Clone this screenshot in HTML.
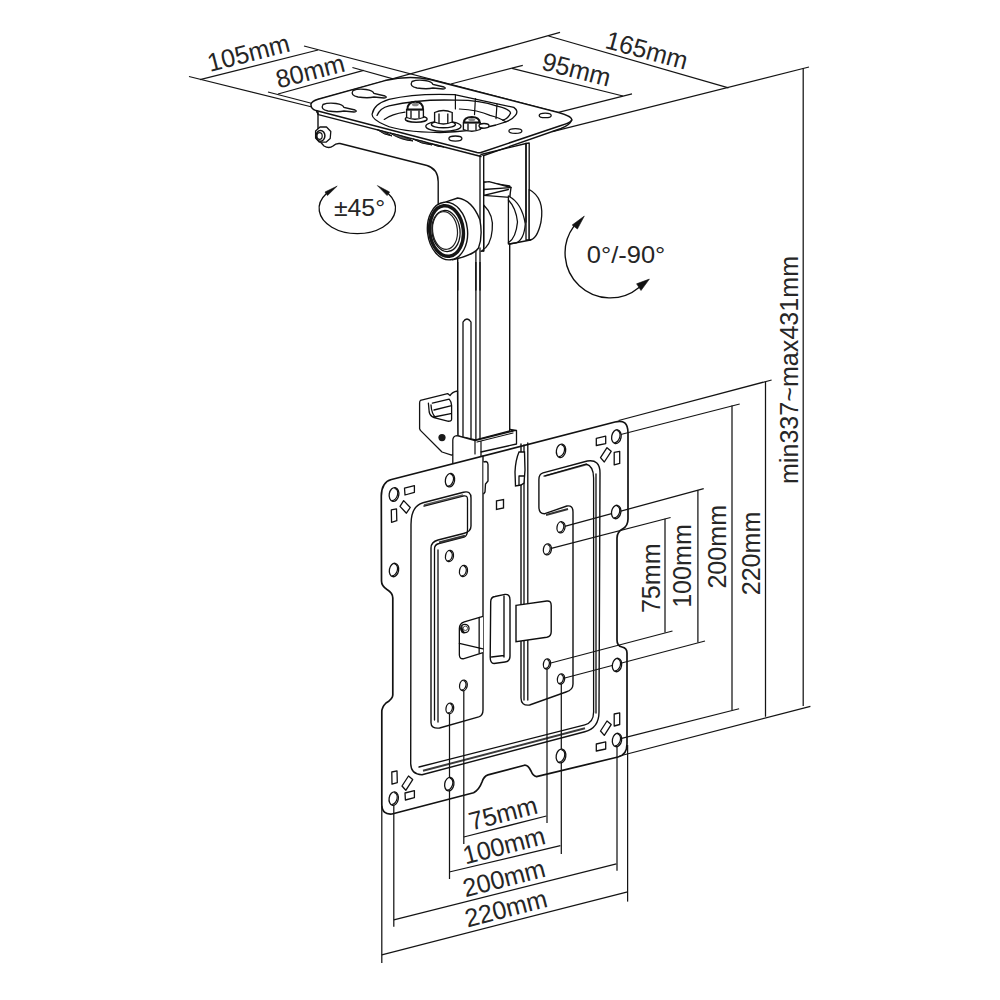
<!DOCTYPE html>
<html><head><meta charset="utf-8">
<style>
html,body{margin:0;padding:0;background:#fff;overflow:hidden;}
svg{display:block;}
text{font-family:"Liberation Sans",sans-serif;fill:#262626;}
.d{stroke:#141414;stroke-width:1.25;fill:none;}
.o{stroke:#121212;stroke-width:1.5;fill:#fff;stroke-linejoin:round;}
.on{stroke:#121212;stroke-width:1.5;fill:none;stroke-linejoin:round;stroke-linecap:round;}
.t{stroke:#0e0e0e;stroke-width:1.3;fill:none;stroke-linecap:round;stroke-linejoin:round;}
.h{stroke:#0e0e0e;stroke-width:1.35;fill:#fff;}
</style></head><body>
<svg width="1000" height="1000" viewBox="0 0 1000 1000">
<rect width="1000" height="1000" fill="#fff"/>
<!-- ===== top dimension lines ===== -->
<g class="d" id="topdims">
  <line x1="189" y1="76.5" x2="312" y2="107"/>
  <line x1="200" y1="79.6" x2="318" y2="50"/>
  <line x1="304" y1="46" x2="560" y2="113"/>
  <line x1="268" y1="92" x2="322" y2="106"/>
  <line x1="278" y1="94" x2="363.6" y2="70.3"/>
  <line x1="352.4" y1="67.5" x2="410" y2="83.6"/>
  <line x1="316" y1="100" x2="560" y2="32.4"/>
  <line x1="548.5" y1="36" x2="728.5" y2="87.8"/>
  <line x1="512" y1="68.4" x2="623" y2="96"/>
  <line x1="450.8" y1="84" x2="522.8" y2="65.4"/>
  <line x1="558.4" y1="112.4" x2="632" y2="93.8"/>
  <line x1="552.4" y1="131.6" x2="809" y2="67"/>
  <line x1="803.2" y1="68" x2="803.2" y2="706"/>
</g>

<!-- ===== ceiling plate ===== -->
<g id="plate">
  <path class="o" d="M311,104 Q312,101 318,99.2 L385,80.6 Q409,74.8 430,79.6 L558.5,112.4 Q572,116 571.8,120 Q570.5,123 561,125.5 L481,152.5 Q479.5,153 477,152.5 L316,110.6 Q310.5,109 311,104 Z"/>
  <path class="on" d="M316.8,111.4 L318.4,114.6 L481,156.5 L561,128.5 Q570,125 571.8,120" style="stroke-width:1.35"/>
  <!-- keyhole slots -->
  <g fill="#fff" stroke="#151515" stroke-width="1.35">
    <path d="M323,104.5 Q328,102.5 336,103.5 Q343,104.5 344,107.5 L355,110 Q358,111.5 354,112 L344,111 Q338,112.5 328,111 Q320,109.5 323,104.5 Z"/>
    <path d="M353,90.5 Q358,88.5 366,89.5 Q373,90.5 374,93.5 L385,96 Q388,97.5 384,98 L374,97 Q368,98.5 358,97 Q350,95.5 353,90.5 Z"/>
    <path d="M412,81.5 Q417,79.5 425,80.5 Q432,81.5 433,84.5 L444,87 Q447,88.5 443,89 L433,88 Q427,89.5 417,88 Q409,86.5 412,81.5 Z"/>
  </g>
  <!-- recess -->
  <path class="h" d="M372.2,113.8 Q374,104 389,99.4 Q415,93 454.6,94.6 L513.8,107.4 Q519,111 515.4,115.4 Q512,120 505.8,121.8 L496,125 Q470,132 440,132.5 Q400,132 385,125 Q371,119 372.2,113.8 Z" style="stroke-width:1.3"/>
  <path class="t" d="M377,115.4 Q380,108 389,105.8 Q420,99 454.6,100.2 Q480,100 496.2,105.8 Q510,109 510.6,113 Q508,119 502.6,120.2" style="stroke-width:1.3"/>
  <path class="t" d="M384.2,119.4 Q392,114 405,112.2 M459.4,109 Q478,110 490,115.4 Q500,118 505.8,121.8" style="stroke-width:1.2"/>
  <path class="t" d="M455.4,94.6 L455.4,109 M475.4,98.6 L474.5,114.6 M497,104.2 L496,118.6" style="stroke-width:1.2"/>
  <!-- nuts -->
  <g fill="#fff" stroke="#111" stroke-width="1.35">
    <ellipse cx="416.2" cy="119" rx="11" ry="3.2"/>
    <path d="M406.6,109.5 L406.6,117.5 Q415,121 423.4,117.5 L423.4,109.5 Z"/>
    <path d="M407.5,109.5 Q407.5,101.8 415.3,101.8 Q423,101.8 423,109.5 Z" stroke-width="2.0"/><ellipse cx="415.3" cy="104.5" rx="3.5" ry="1.8" fill="#888" stroke="none"/>
    <line x1="411" y1="110.5" x2="411" y2="118"/><line x1="419" y1="110.5" x2="419" y2="118"/>
    <ellipse cx="443.4" cy="126.2" rx="17.6" ry="5.2"/>
    <ellipse cx="443.4" cy="124.5" rx="12" ry="3.3"/>
    <path d="M434.6,112.5 L434.6,122 Q443.4,126 452.2,122 L452.2,112.5 Q443.4,108.5 434.6,112.5 Z"/>
    <line x1="439" y1="113.5" x2="439" y2="123"/><line x1="447.8" y1="113.5" x2="447.8" y2="123"/>
    <path d="M463.4,122.5 L463.4,129.5 Q471.8,133 480.2,129.5 L480.2,122.5 Z"/>
    <path d="M464,122.5 Q464,117 471.8,117 Q479.5,117 479.5,122.5 Z" stroke-width="2.0"/><ellipse cx="471.8" cy="119.5" rx="3.5" ry="1.6" fill="#888" stroke="none"/>
    <line x1="468" y1="123.5" x2="468" y2="130.5"/><line x1="476" y1="123.5" x2="476" y2="130.5"/>
    <ellipse cx="484" cy="125.8" rx="5" ry="2.3"/>
  </g>
  <!-- small holes -->
  <g fill="#fff" stroke="#111" stroke-width="1.3">
    <ellipse cx="455.4" cy="138.6" rx="6.5" ry="2.6"/>
    <ellipse cx="515.4" cy="131" rx="6.5" ry="2.4"/>
    <ellipse cx="545.2" cy="115.4" rx="6" ry="2.3"/>
  </g>
</g>

<!-- ===== bracket + knob + pole ===== -->
<g id="bracket">
  <!-- pole -->
  <path class="o" d="M457.7,250 L457.7,436 L475.6,440 L509.7,431 L509.7,186 L484,182 L457.7,186 Z" style="stroke-width:1.4"/>
  <line class="t" x1="475.9" y1="190" x2="475.9" y2="440" style="stroke-width:1.3"/>
  <line class="t" x1="480" y1="190" x2="480" y2="439" style="stroke-width:1.3"/>
  <path class="t" d="M463,436 L463,322 Q467,316 471,322 L471,438" style="stroke-width:1.3"/>
  <!-- bracket right plate edge -->
  <path class="o" d="M526,143.5 L529.2,143 L529.2,240 L526,240 Z" style="stroke-width:1.35"/>
  <!-- top block -->
  <path class="o" style="stroke-width:1.35" d="M483.7,182.4 L489,181.7 L511,187.5 L509.7,197.3 L483.7,195.4 Z"/>
  <path class="t" d="M483.7,189.5 L511,187.5 M483.7,195.4 L508.4,189.5"/>
  <!-- disc right of right plate -->
  <path class="o" d="M529.2,189.5 Q545,198 541,222 Q537,240 529.2,240 Z" style="stroke-width:1.3"/>
  <!-- disc between plates -->
  <path class="o" d="M508.4,196 Q522,203 525.3,224 Q524,240 516.2,242.8 L508.4,244 Z" style="stroke-width:1.3"/>
  <path class="t" d="M508.4,200 Q516,208 517.5,222 Q516,238 508.4,242.8" style="stroke-width:1.3"/>
  <line class="t" x1="526" y1="143.5" x2="526" y2="222" style="stroke-width:1.35"/>
  <path class="t" d="M509.7,244 L530.5,240" style="stroke-width:1.3"/>
  <!-- left side face -->
  <path d="M318,112.5 L318,128 Q317,140 324,146 Q329,149 333,146 Q336,143 340,143.5 L427,165.5 Q438.2,169 438.2,181.7 L438.2,262 L483.7,262 L483.7,156 L481,155.5 Z" fill="#fff"/>
  <path class="on" d="M318,112.5 L318,128 Q317,140 324,146 Q329,149 333,146 Q336,143 340,143.5 L427,165.5 Q438.2,169 438.2,181.7 L438.2,215" style="stroke-width:1.4"/>
  <path class="on" d="M316.8,111.4 L318.4,114.6 L481,156.5" style="stroke-width:1.35"/>
  <!-- underside features -->
  <g fill="#555" stroke="#111" stroke-width="1.0">
    <path d="M377,129.5 Q385,131 392,136 Q384,135 377,129.5 Z"/>
    <path d="M390,133 Q405,136 413,141 Q400,140 390,133 Z"/>
    <path d="M413,139 Q425,141 432,145 Q421,144 413,139 Z"/>
    <path d="M432,144 Q438,145 444,147 Q437,147 432,144 Z"/>
  </g>
  <line class="t" x1="480" y1="155.5" x2="480" y2="233" style="stroke-width:1.3"/>
  <line class="t" x1="481" y1="154.5" x2="526" y2="143.5" style="stroke-width:1.3"/>
  <!-- disc right of front plate -->
  <path class="o" d="M483.7,205 Q494,215 492.2,230 Q491,246 481,251.3 L483.7,251 Z" style="stroke-width:1.3"/>
  <!-- cover pole top lines hidden under face -->
    <line class="t" x1="457.7" y1="250" x2="457.7" y2="290" style="stroke-width:1.4"/>
  <line class="t" x1="475.9" y1="250" x2="475.9" y2="290" style="stroke-width:1.3"/>
  <line class="t" x1="480" y1="248" x2="480" y2="290" style="stroke-width:1.3"/>
  <line class="t" x1="483.7" y1="156" x2="483.7" y2="251" style="stroke-width:1.35"/>
  <!-- front knob body -->
  <path class="o" d="M446,201.9 L457.7,198 Q472,200 479.8,219.4 Q483,236 478.5,248 Q474,255 452.5,259.7 Z" style="stroke-width:1.4"/>
  <ellipse cx="447.5" cy="231" rx="20" ry="29" transform="rotate(-6.5 447.5 231)" fill="#fff" stroke="#111" stroke-width="1.4"/>
  <ellipse cx="446.5" cy="231" rx="16.8" ry="25.4" transform="rotate(-6.5 446.5 231)" fill="none" stroke="#151515" stroke-width="3.4"/>
  <ellipse cx="446" cy="231" rx="14" ry="20.6" transform="rotate(-6.5 446 231)" fill="#fff" stroke="#111" stroke-width="1.3"/>
  <ellipse cx="445" cy="230.5" rx="12.4" ry="18.9" transform="rotate(-6.5 445 230.5)" fill="none" stroke="#222" stroke-width="1.2"/>
  <!-- nut -->
  <path class="o" d="M315.6,131 L320,127 L326.5,127 L330.8,131.5 L330.2,138.5 L326,142.2 L319.5,142.2 L315.6,138 Z" style="stroke-width:1.3"/>
  <ellipse cx="320.5" cy="135.8" rx="4.4" ry="5.4" fill="#fff" stroke="#111" stroke-width="1.5"/>
  <ellipse cx="319.6" cy="136" rx="2.6" ry="3.4" fill="#fff" stroke="#111" stroke-width="1.2"/>
</g>

<!-- ===== pole collar & clip ===== -->
<g id="collar">
  <path class="o" d="M420.4,400.4 L447.6,393.6 L450,395.6 Q452,392 457.5,391 L458,452 L451.6,455.2 L442,452 L420.4,430.4 L419.6,428.8 L419.6,403 Q419.6,401 420.4,400.4 Z" style="stroke-width:1.3"/>
  <path class="t" d="M428.4,403.2 L429.2,412 Q430,416 434,417.6 L447.6,421.2 Q451.6,421.5 451.6,419.2 L451.6,405.6 Q451.6,402 449.2,399.2 M432.4,403.2 L449.2,399.2 M434,410 L451.6,405.6 M434,417 L450.8,413.6 M431,405 Q431.5,414 436,418" style="stroke-width:1.3"/>
  <circle cx="442" cy="437.6" r="3.6" fill="#1a1a1a"/>
  <path class="o" d="M452.8,470 L452.8,440 Q453,436 457,435.6 L475,440.5 L513,431 L510,429.5 L516.5,430.5 L516.5,444 L481,452 L481,470 Z" style="stroke-width:1.3"/>
  <path class="t" d="M475,440.5 L475,454 M481,441 L481,452 M513,431 L516.5,430.5 M477,442 L513,433" style="stroke-width:1.2"/>
</g>

<!-- ===== VESA plate ===== -->
<g id="vesa">
  <path class="o" d="M391.5,479.5 L615,422 Q628,418.4 628,433 L628,519 Q628,526 622.5,529 Q617,532 617,538 L617,640 Q617,646 622,647 Q627,648 627,653 L627,744 Q627,755 618,757 L536.5,776.6 Q533,776 531,771 Q528,765 524.6,765.2 L488,774.9 Q484,776 482,782 Q479,790 473.6,792.7 L392,814 Q382,815 381.8,804.6 L381.8,712 Q381.8,707 386,703 Q392.8,699 392.8,695 L392.8,598 Q392.8,593 387,589.5 Q381.5,586 381.5,581 L381.3,496 Q381.5,482 391.5,479.5 Z" style="stroke-width:1.7"/>
  <!-- raised frame outline -->
  <path class="on" d="M483,456 L483,710 Q483,715.5 478.7,716.9 L439.6,728 Q431,729 431,722.8 L431,548 Q431,542 438,540 L463.5,533.5 Q471,532 471,526 L471,498 Q471,490.5 463.5,492.25 L423,502.75 Q411,506 411,524.5 L410.7,763.8 Q411,774.7 422,774.7 L584.8,731.8 Q599,728 599,712 L600,472.9 Q600,459 587.3,461 L543,472.9 Q538.9,474 538.9,479.7 L538.9,507 Q539,514 544.8,513.7 L566.9,506 Q573,505 573,512 L573,684 Q573,690 566,692 L529.6,705 Q521,706 521,698 L521,444" style="stroke-width:1.4"/>
  <!-- emboss inner lines -->
  <path class="t" d="M434.5,720 L434.5,549 Q434.5,544.5 439,543.5 L464,537 Q467.5,536 467.5,530 L467.5,499 Q467.5,495 463,496 L424,506"/>
  <path class="t" d="M438,722 L438,550"/>
  <path d="M423,770.8 L585,728.2" stroke="#3a3a3a" stroke-width="2.0" fill="none"/>
  <path class="t" d="M419,767 L584.8,724.8 Q593.6,722.5 593.6,712"/>
  <path d="M546,515 L568,509" stroke="#333" stroke-width="2" fill="none"/>
  <path d="M439,542.5 L465,535.8" stroke="#333" stroke-width="2" fill="none"/>
  <path d="M424,505 L463,495" stroke="#555" stroke-width="1.6" fill="none"/>
  <path d="M545,476 L587,464.5" stroke="#555" stroke-width="1.6" fill="none"/>
  <path class="t" d="M596,713 L596,474 M593.6,712 L593.6,478 Q593.6,466 586,464 L544,476"/>
  <path class="t" d="M524,700 L524,445 M527.8,700 L527.8,443"/>
</g>

<!-- ===== right vertical dims ===== -->
<g class="d" id="rdims">
  <line x1="618.6" y1="420.5" x2="771.6" y2="380"/>
  <line x1="765.5" y1="381.5" x2="765.5" y2="716.8"/>
  <line x1="620.8" y1="434.5" x2="739.7" y2="404"/>
  <line x1="732" y1="405.5" x2="732" y2="710"/>
  <line x1="561" y1="527.3" x2="703.7" y2="488.7"/>
  <line x1="697.9" y1="490.3" x2="697.9" y2="642.5"/>
  <line x1="561" y1="679" x2="705" y2="641"/>
  <line x1="547.4" y1="549.4" x2="670.6" y2="517.5"/>
  <line x1="665" y1="518.7" x2="665" y2="632.5"/>
  <line x1="547" y1="664" x2="672.5" y2="631"/>
  <line x1="620.7" y1="738.6" x2="739.1" y2="708.75"/>
  <line x1="619.5" y1="756" x2="810.4" y2="706.4"/>
</g>

<!-- ===== bottom dims ===== -->
<g class="d" id="bdims">
  <line x1="381.8" y1="806" x2="381.8" y2="963"/>
  <line x1="381.8" y1="954.8" x2="627.6" y2="891.8"/>
  <line x1="627.6" y1="745" x2="627.6" y2="901.6"/>
  <line x1="393.8" y1="798" x2="393.8" y2="926.8"/>
  <line x1="393.8" y1="919.8" x2="616.4" y2="863.8"/>
  <line x1="617" y1="740" x2="617" y2="870.8"/>
  <line x1="449.5" y1="714" x2="449.5" y2="879"/>
  <line x1="449.2" y1="872" x2="560.4" y2="845.6"/>
  <line x1="561.3" y1="680" x2="561.3" y2="854"/>
  <line x1="463.8" y1="690" x2="463.8" y2="844"/>
  <line x1="463.8" y1="837" x2="546.4" y2="816"/>
  <line x1="547" y1="665" x2="547" y2="823"/>
</g>

<!-- ===== rotation symbols ===== -->
<g id="rot45">
  <path class="t" d="M326.2,193.8 A38.2,25.2 0 1 0 388.4,193.8" style="stroke-width:1.35"/>
  <path d="M337.2,186.1 L325,192 L327.5,195.6 Z" fill="#111" stroke="#111" stroke-width="0.6"/>
  <path d="M377.4,185.6 L389.6,192 L387.1,195.6 Z" fill="#111" stroke="#111" stroke-width="0.6"/>
</g>
<g id="rot90">
  <path class="t" d="M573.8,226.3 A45,45 0 0 0 639,287.4" style="stroke-width:1.35"/>
  <path d="M584.3,216.1 L572.2,225 L577.4,229 Z" fill="#111" stroke="#111" stroke-width="0.6"/>
  <path d="M649.4,279.1 L636.6,283.8 L641,290.5 Z" fill="#111" stroke="#111" stroke-width="0.6"/>
</g>

<!-- ===== VESA details ===== -->
<g id="vdetail">
  <!-- holes -->
  <g fill="#fff" stroke="#111" stroke-width="1.3">
    <ellipse cx="394.0" cy="494.5" rx="4.8" ry="7.0" transform="rotate(10 394.0 494.5)"/>
    <path d="M394.3,488.3 A4.2,6.1 10 0 1 393.7,500.9" transform="rotate(10 394.0 494.5) translate(-0.9,0)" fill="none" stroke-width="1.2"/>
    <ellipse cx="450.0" cy="480.2" rx="4.6" ry="6.8" transform="rotate(10 450.0 480.2)"/>
    <path d="M450.3,474.2 A4.0,5.9 10 0 1 449.7,486.4" transform="rotate(10 450.0 480.2) translate(-0.9,0)" fill="none" stroke-width="1.2"/>
    <ellipse cx="394.0" cy="570.0" rx="4.6" ry="6.8" transform="rotate(10 394.0 570.0)"/>
    <path d="M394.3,564.0 A4.0,5.9 10 0 1 393.7,576.2" transform="rotate(10 394.0 570.0) translate(-0.9,0)" fill="none" stroke-width="1.2"/>
    <ellipse cx="449.5" cy="556.0" rx="4.0" ry="5.6" transform="rotate(10 449.5 556.0)"/>
    <path d="M449.8,551.2 A3.4,4.7 10 0 1 449.2,561.0" transform="rotate(10 449.5 556.0) translate(-0.9,0)" fill="none" stroke-width="1.2"/>
    <ellipse cx="463.5" cy="571.0" rx="4.0" ry="5.6" transform="rotate(10 463.5 571.0)"/>
    <path d="M463.8,566.2 A3.4,4.7 10 0 1 463.2,576.0" transform="rotate(10 463.5 571.0) translate(-0.9,0)" fill="none" stroke-width="1.2"/>
    <ellipse cx="463.4" cy="685.4" rx="3.8" ry="5.4" transform="rotate(10 463.4 685.4)"/>
    <path d="M463.7,680.8 A3.2,4.5 10 0 1 463.1,690.2" transform="rotate(10 463.4 685.4) translate(-0.9,0)" fill="none" stroke-width="1.2"/>
    <ellipse cx="449.8" cy="708.4" rx="3.8" ry="5.4" transform="rotate(10 449.8 708.4)"/>
    <path d="M450.1,703.8 A3.2,4.5 10 0 1 449.5,713.2" transform="rotate(10 449.8 708.4) translate(-0.9,0)" fill="none" stroke-width="1.2"/>
    <ellipse cx="393.7" cy="798.6" rx="4.6" ry="6.8" transform="rotate(10 393.7 798.6)"/>
    <path d="M394.0,792.6 A4.0,5.9 10 0 1 393.4,804.8" transform="rotate(10 393.7 798.6) translate(-0.9,0)" fill="none" stroke-width="1.2"/>
    <ellipse cx="449.3" cy="784.2" rx="4.6" ry="6.8" transform="rotate(10 449.3 784.2)"/>
    <path d="M449.6,778.2 A4.0,5.9 10 0 1 449.0,790.4" transform="rotate(10 449.3 784.2) translate(-0.9,0)" fill="none" stroke-width="1.2"/>
    <ellipse cx="616.4" cy="436.7" rx="4.7" ry="7.0" transform="rotate(10 616.4 436.7)"/>
    <path d="M616.7,430.5 A4.1,6.1 10 0 1 616.1,443.1" transform="rotate(10 616.4 436.7) translate(-0.9,0)" fill="none" stroke-width="1.2"/>
    <ellipse cx="561.0" cy="450.8" rx="4.6" ry="6.8" transform="rotate(10 561.0 450.8)"/>
    <path d="M561.3,444.8 A4.0,5.9 10 0 1 560.7,457.0" transform="rotate(10 561.0 450.8) translate(-0.9,0)" fill="none" stroke-width="1.2"/>
    <ellipse cx="616.2" cy="512.0" rx="4.6" ry="6.8" transform="rotate(10 616.2 512.0)"/>
    <path d="M616.5,506.0 A4.0,5.9 10 0 1 615.9,518.2" transform="rotate(10 616.2 512.0) translate(-0.9,0)" fill="none" stroke-width="1.2"/>
    <ellipse cx="561.0" cy="527.3" rx="4.0" ry="5.6" transform="rotate(10 561.0 527.3)"/>
    <path d="M561.3,522.5 A3.4,4.7 10 0 1 560.7,532.3" transform="rotate(10 561.0 527.3) translate(-0.9,0)" fill="none" stroke-width="1.2"/>
    <ellipse cx="547.4" cy="549.4" rx="4.0" ry="5.6" transform="rotate(10 547.4 549.4)"/>
    <path d="M547.7,544.6 A3.4,4.7 10 0 1 547.1,554.4" transform="rotate(10 547.4 549.4) translate(-0.9,0)" fill="none" stroke-width="1.2"/>
    <ellipse cx="547.0" cy="664.0" rx="3.6" ry="5.2" transform="rotate(10 547.0 664.0)"/>
    <path d="M547.3,659.6 A3.0,4.3 10 0 1 546.7,668.6" transform="rotate(10 547.0 664.0) translate(-0.9,0)" fill="none" stroke-width="1.2"/>
    <ellipse cx="561.0" cy="679.0" rx="3.6" ry="5.2" transform="rotate(10 561.0 679.0)"/>
    <path d="M561.3,674.6 A3.0,4.3 10 0 1 560.7,683.6" transform="rotate(10 561.0 679.0) translate(-0.9,0)" fill="none" stroke-width="1.2"/>
    <ellipse cx="617.0" cy="665.0" rx="4.6" ry="6.8" transform="rotate(10 617.0 665.0)"/>
    <path d="M617.3,659.0 A4.0,5.9 10 0 1 616.7,671.2" transform="rotate(10 617.0 665.0) translate(-0.9,0)" fill="none" stroke-width="1.2"/>
    <ellipse cx="561.0" cy="756.0" rx="4.8" ry="7.0" transform="rotate(10 561.0 756.0)"/>
    <path d="M561.3,749.8 A4.2,6.1 10 0 1 560.7,762.4" transform="rotate(10 561.0 756.0) translate(-0.9,0)" fill="none" stroke-width="1.2"/>
    <ellipse cx="617.0" cy="740.0" rx="4.6" ry="6.8" transform="rotate(10 617.0 740.0)"/>
    <path d="M617.3,734.0 A4.0,5.9 10 0 1 616.7,746.2" transform="rotate(10 617.0 740.0) translate(-0.9,0)" fill="none" stroke-width="1.2"/>
  </g>
  <!-- corner marks -->
  <g fill="#fff" stroke="#111" stroke-width="1.3" stroke-linejoin="round">
    <path d="M404.5,488.2 L414.4,485.7 L414.4,492.3 L405,495 Z"/>
    <path d="M403.65,500.6 L410.25,507.5 L406.4,513.2 L400,506.35 Z"/>
    <path d="M391.3,509.9 L396.5,508.8 L396.8,520.65 L391.55,522.3 Z"/>
    <path d="M596.3,438.4 L605.7,436.2 L605.7,443.6 L596.3,445.5 Z"/>
    <path d="M600.5,457.6 L607,447.7 L611.2,451.3 L604.3,462 Z"/>
    <path d="M614.2,452.4 L619.7,451.3 L619.7,463.4 L614.2,464.8 Z"/>
    <path d="M614.2,714 L619.7,712.8 L619.7,724.5 L614.2,726 Z"/>
    <path d="M600.5,731 L607,721 L611.2,724.6 L604.3,735.4 Z"/>
    <path d="M596.3,744 L605.7,741.8 L605.7,749 L596.3,751 Z"/>
    <path d="M391.8,772 L397,770.8 L397.3,782.6 L392,784.2 Z"/>
    <path d="M402,786 L408.5,776 L412.7,779.6 L405.8,790.3 Z"/>
    <path d="M405,793 L414.4,790.6 L414.4,797.6 L405.4,800 Z"/>
  </g>
  <!-- small square in channel -->
  <path d="M496.5,500.8 L503.5,499.5 L503.5,508 L496.5,509.5 Z" fill="#fff" stroke="#111" stroke-width="1.35"/>
  <!-- left clip on channel edge -->
  <path class="h" d="M483.5,462 L486,461.5 Q488,462 488,464.5 L488,481 L485.5,484 L485,492 L483.5,494"/>
  <!-- right clip on rail -->
  <path class="h" d="M519,452 L524.5,452 L525,470 L524,483 L521,485 L515.5,486 L515,472 Q515.5,460 519,452 Z"/>
  <path class="t" d="M519,476 L524,476 M519,476 L519,485"/>
  <!-- slot -->
  <path class="h" d="M490.7,602 Q490.7,597 495,596.5 L505,594.4 Q510,594 510,599.9 L510,656 Q510,661.5 505,662 L494,663.5 Q490.2,663.5 490.2,657 Z" style="stroke-width:1.4"/>
  <path class="t" d="M504,596 L504,657 M491.5,657 L504,655.5" style="stroke-width:1.35"/>
  <!-- tab -->
  <path class="h" d="M516,605.4 L546.8,601 Q551.2,600.5 551.2,605.4 L551.2,631.8 Q551.2,636.5 546.8,637.3 L516,641.7 Z" style="stroke-width:1.4"/>
  <!-- left clip w/ screw -->
  <path class="h" d="M483,616.4 L464.3,621.9 Q459.35,623.5 459.35,628.5 L459.35,655 Q459.6,659 463.2,658.75 L483,652.7" style="stroke-width:1.3"/>
  <path class="t" d="M459.35,643.35 L483,648.85 M479.15,617.5 L479.15,653"/>
  <circle cx="464.85" cy="628.5" r="4.2" fill="#fff" stroke="#111" stroke-width="1.3"/>
  <path d="M462.5,624.8 Q459.8,628 461.5,632.5 Q463.5,634 465.5,633 Q462,630 462.5,624.8 Z" fill="#111"/><circle cx="465.4" cy="628.3" r="2.2" fill="#fff" stroke="#222" stroke-width="0.8"/>
</g>

<g id="labels">
<text font-size="25.60" transform="translate(210.00,72.00) rotate(-14.5) scale(0.985,1)">105mm</text>
<text font-size="25.60" transform="translate(278.50,88.50) rotate(-14.5) scale(0.985,1)">80mm</text>
<text font-size="25.60" transform="translate(540.38,69.25) rotate(14.5) scale(0.985,1)">95mm</text>
<text font-size="25.60" transform="translate(603.95,47.72) rotate(15.2) scale(0.985,1)">165mm</text>
<text font-size="24.43" transform="translate(333.90,215.50) rotate(0) scale(1.018,1)">±45°</text>
<text font-size="24.15" transform="translate(586.75,263.25) rotate(0) scale(1.057,1)">0°/-90°</text>
<text font-size="26.30" transform="translate(659.50,613.10) rotate(-90) scale(0.955,1)">75mm</text>
<text font-size="26.30" transform="translate(691.00,607.85) rotate(-90) scale(0.955,1)">100mm</text>
<text font-size="26.30" transform="translate(726.35,588.60) rotate(-90) scale(0.955,1)">200mm</text>
<text font-size="26.30" transform="translate(760.40,595.30) rotate(-90) scale(0.955,1)">220mm</text>
<text font-size="26.30" transform="translate(798.00,484.05) rotate(-90) scale(0.955,1)">min337~max431mm</text>
<text font-size="25.60" transform="translate(471.38,830.50) rotate(-14.5) scale(0.985,1)">75mm</text>
<text font-size="25.60" transform="translate(465.60,864.48) rotate(-14.5) scale(0.985,1)">100mm</text>
<text font-size="25.60" transform="translate(465.53,897.25) rotate(-14.5) scale(0.985,1)">200mm</text>
<text font-size="25.60" transform="translate(467.55,927.50) rotate(-14.5) scale(0.985,1)">220mm</text>
</g>
</svg>
</body></html>
